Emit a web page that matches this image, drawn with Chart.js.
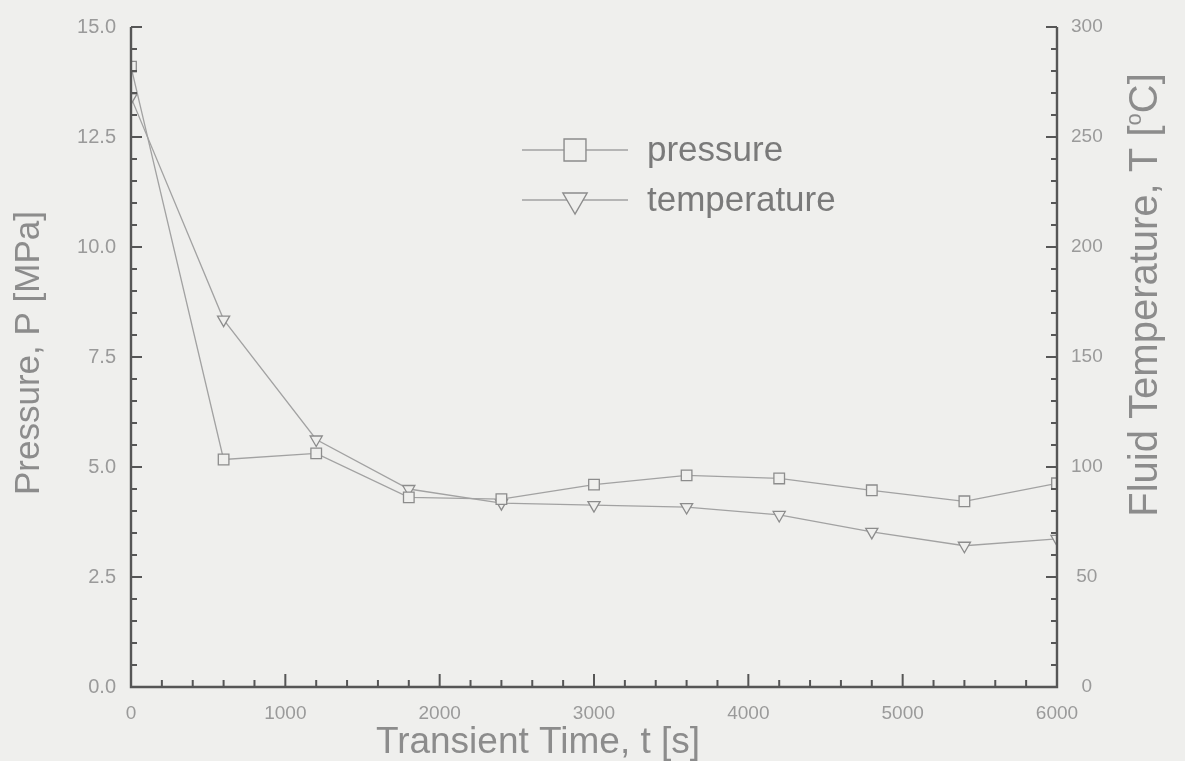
<!DOCTYPE html>
<html>
<head>
<meta charset="utf-8">
<script src="https://cdn.jsdelivr.net/npm/chart.js@4.4.0/dist/chart.umd.min.js"></script>
<style>
  html, body { margin: 0; padding: 0; background: #efefed; }
  #wrap { width: 1185px; height: 761px; position: relative; }
</style>
</head>
<body>
<div id="wrap"><canvas id="c"></canvas></div>
<script>
// Transient data: time (s), system pressure (MPa), fluid temperature (°C)
const timeSeconds   = [0, 600, 1200, 1800, 2400, 3000, 3600, 4200, 4800, 5400, 6000];
const pressureMPa   = [14.1, 5.17, 5.31, 4.31, 4.27, 4.6, 4.81, 4.74, 4.47, 4.22, 4.63];
const temperatureC  = [268, 167, 112.5, 90, 83.6, 82.7, 81.8, 78.2, 70.5, 64.2, 67.3];

// Axis tick values
const timeTicks        = [0, 1000, 2000, 3000, 4000, 5000, 6000];
const pressureTicks    = [0, 2.5, 5, 7.5, 10, 12.5, 15];
const temperatureTicks = [0, 50, 100, 150, 200, 250, 300];

// Text
const seriesLabels  = ['pressure', 'temperature'];
const xTitle        = 'Transient Time, t [s]';
const pTitle        = 'Pressure, P [MPa]';
const tTitleParts   = ['Fluid Temperature, T [', 'o', 'C]'];

const FONT = '"Liberation Sans", Arial, Helvetica, sans-serif';
const BG = '#efefed';
const LINE = '#a2a2a2';
const MARK = '#8c8c8c';
const AXIS = '#565656';
const TEXT = '#8c8c8c';

function setTicks(values) {
  return scale => { scale.ticks = values.map(v => ({ value: v })); };
}

// Axes drawn as an open-topped frame with inward major/minor ticks,
// rotated titles and the inline legend.
const framePlugin = {
  id: 'frame',
  afterDraw(chart) {
    const { ctx, chartArea: a, scales } = chart;
    ctx.save();

    ctx.strokeStyle = AXIS;
    ctx.lineWidth = 2.4;
    ctx.beginPath();
    ctx.moveTo(a.left, a.top);
    ctx.lineTo(a.left, a.bottom);
    ctx.lineTo(a.right, a.bottom);
    ctx.lineTo(a.right, a.top);
    ctx.stroke();

    ctx.lineWidth = 2;
    ctx.beginPath();
    // left axis: minor every 0.5, major every 2.5
    for (let i = 0; i <= 30; i++) {
      const y = scales.y.getPixelForValue(i * 0.5);
      const len = i % 5 === 0 ? 11 : 6;
      ctx.moveTo(a.left, y); ctx.lineTo(a.left + len, y);
    }
    // right axis: minor every 10, major every 50
    for (let i = 0; i <= 30; i++) {
      const y = scales.y1.getPixelForValue(i * 10);
      const len = i % 5 === 0 ? 11 : 6;
      ctx.moveTo(a.right, y); ctx.lineTo(a.right - len, y);
    }
    // bottom axis: minor every 200, major every 1000
    for (let i = 0; i <= 30; i++) {
      const x = scales.x.getPixelForValue(i * 200);
      const len = i % 5 === 0 ? 13 : 7;
      ctx.moveTo(x, a.bottom); ctx.lineTo(x, a.bottom - len);
    }
    ctx.stroke();

    // axis titles
    ctx.fillStyle = TEXT;
    ctx.textBaseline = 'middle';
    ctx.textAlign = 'center';

    ctx.font = '37px ' + FONT;
    ctx.fillText(xTitle, 538, 743);

    ctx.save();
    ctx.translate(29, 353);
    ctx.rotate(-Math.PI / 2);
    ctx.font = '35px ' + FONT;
    ctx.fillText(pTitle, 0, 0);
    ctx.restore();

    ctx.save();
    ctx.translate(1146, 295);
    ctx.rotate(-Math.PI / 2);
    ctx.textAlign = 'left';
    const big = '40px ' + FONT, small = '22px ' + FONT;
    ctx.font = big;
    const w0 = ctx.measureText(tTitleParts[0]).width;
    const w2 = ctx.measureText(tTitleParts[2]).width;
    ctx.font = small;
    const w1 = ctx.measureText(tTitleParts[1]).width;
    const x0 = -(w0 + w1 + w2) / 2;
    ctx.font = big;
    ctx.fillText(tTitleParts[0], x0, 0);
    ctx.font = small;
    ctx.fillText(tTitleParts[1], x0 + w0, -11);
    ctx.font = big;
    ctx.fillText(tTitleParts[2], x0 + w0 + w1, 0);
    ctx.restore();

    // legend
    const rows = [
      { y: 150, ds: chart.data.datasets[0], r: 15.5 },
      { y: 200, ds: chart.data.datasets[1], r: 14 }
    ];
    ctx.font = '35px ' + FONT;
    ctx.textAlign = 'left';
    ctx.textBaseline = 'alphabetic';
    rows.forEach(row => {
      ctx.strokeStyle = LINE;
      ctx.lineWidth = 1.4;
      ctx.beginPath();
      ctx.moveTo(522, row.y); ctx.lineTo(628, row.y);
      ctx.stroke();
      ctx.fillStyle = BG;
      ctx.strokeStyle = MARK;
      ctx.lineWidth = 1.4;
      Chart.helpers.drawPoint(ctx, {
        pointStyle: row.ds.pointStyle,
        rotation: row.ds.pointRotation || 0,
        radius: row.r,
        borderWidth: 1.4
      }, 575, row.y);
      ctx.fillStyle = '#7a7a7a';
      ctx.fillText(row.ds.label, 647, row.y + 11);
    });

    ctx.restore();
  }
};

new Chart(document.getElementById('c'), {
  type: 'line',
  data: {
    datasets: [
      {
        label: seriesLabels[0],
        data: timeSeconds.map((t, i) => ({ x: t, y: pressureMPa[i] })),
        yAxisID: 'y',
        borderColor: LINE,
        borderWidth: 1.3,
        pointStyle: 'rect',
        pointRadius: 7.5,
        pointBorderColor: MARK,
        pointBackgroundColor: BG,
        pointBorderWidth: 1.3,
        tension: 0
      },
      {
        label: seriesLabels[1],
        data: timeSeconds.map((t, i) => ({ x: t, y: temperatureC[i] })),
        yAxisID: 'y1',
        borderColor: LINE,
        borderWidth: 1.3,
        pointStyle: 'triangle',
        pointRotation: 180,
        pointRadius: 7,
        pointBorderColor: MARK,
        pointBackgroundColor: BG,
        pointBorderWidth: 1.3,
        tension: 0
      }
    ]
  },
  options: {
    responsive: true,
    maintainAspectRatio: false,
    animation: false,
    devicePixelRatio: 1,
    layout: { padding: { top: 23, left: 0, right: 0, bottom: 0 } },
    plugins: { legend: { display: false }, tooltip: { enabled: false } },
    scales: {
      x: {
        type: 'linear',
        min: 0, max: 6000,
        afterBuildTicks: setTicks(timeTicks),
        afterFit: s => { s.height = 74; },
        grid: { display: false, drawTicks: false },
        border: { display: false },
        ticks: {
          padding: 15,
          color: '#9a9a9a',
          font: { family: FONT, size: 19 },
          maxRotation: 0,
          callback: v => String(v)
        }
      },
      y: {
        position: 'left',
        min: 0, max: 15,
        afterBuildTicks: setTicks(pressureTicks),
        afterFit: s => { s.width = 131; },
        grid: { display: false, drawTicks: false },
        border: { display: false },
        ticks: {
          padding: 15,
          color: '#9a9a9a',
          font: { family: FONT, size: 20 },
          callback: v => Number(v).toFixed(1)
        }
      },
      y1: {
        position: 'right',
        min: 0, max: 300,
        afterBuildTicks: setTicks(temperatureTicks),
        afterFit: s => { s.width = 128; },
        grid: { display: false, drawTicks: false },
        border: { display: false },
        ticks: {
          padding: 14,
          crossAlign: 'center',
          color: '#9a9a9a',
          font: { family: FONT, size: 19 },
          callback: v => String(v)
        }
      }
    }
  },
  plugins: [framePlugin]
});
</script>
</body>
</html>
